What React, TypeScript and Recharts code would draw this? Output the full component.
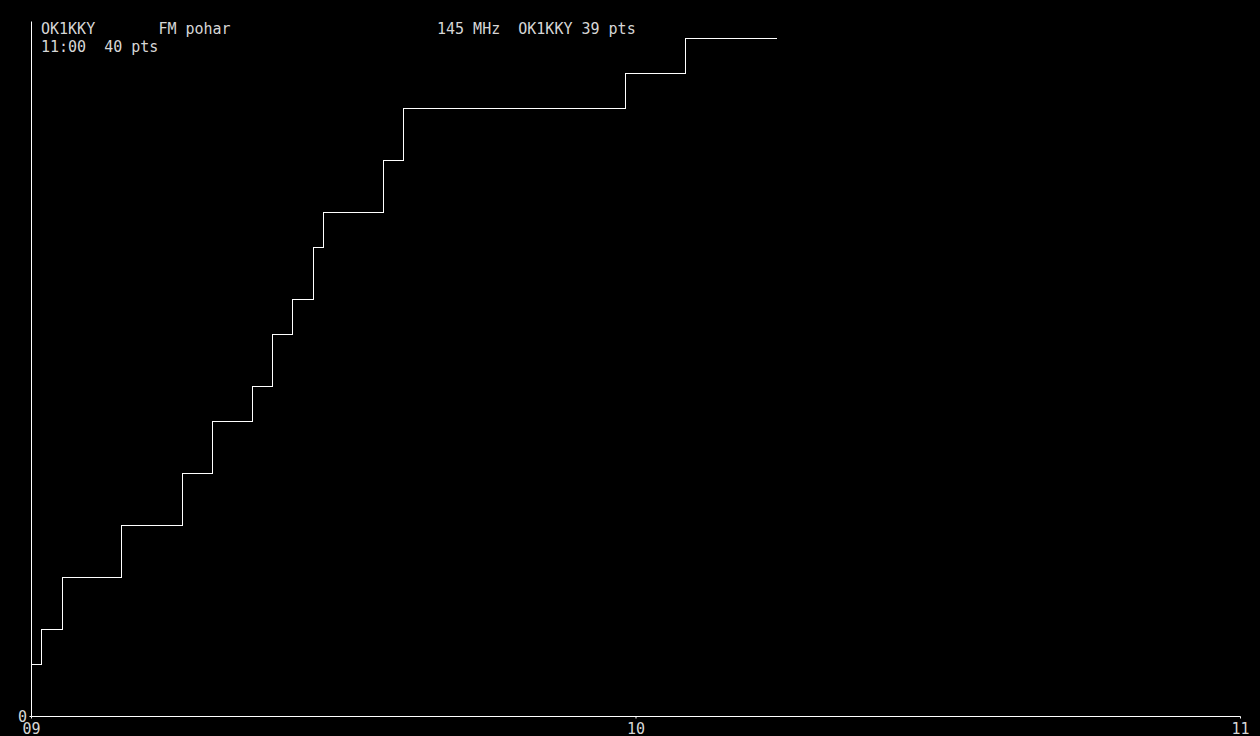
import React from 'react';
import { LineChart, Line, XAxis, YAxis } from 'recharts';

// minutes after 09:00 where the score changes, and the running score
const minutes = [0, 0.99, 3.08, 8.93, 14.99, 17.97, 21.94, 23.92, 25.91, 27.99, 28.98, 34.94, 36.92, 58.96, 64.91, 73.95];
const points = [3, 5, 8, 11, 14, 17, 19, 22, 24, 27, 29, 32, 35, 37, 39, 39];

const xTicks = [0, 60, 120];
const xTickLabels = ['09', '10', '11'];
const yTicks = [0];
const yTickLabels = ['0'];

const headerLines = [
  { x: 41, y: 34, text: 'OK1KKY       FM pohar' },
  { x: 41, y: 51.5, text: '11:00  40 pts' },
  { x: 437, y: 34, text: '145 MHz  OK1KKY 39 pts' },
];

const data = minutes.map((m, i) => ({ m, pts: points[i] }));

const FONT = '"DejaVu Sans Mono", "Liberation Mono", monospace';
const TEXT_COLOR = '#d6d6d6';

function XTick(props: any) {
  const { x, payload } = props;
  const idx = xTicks.indexOf(payload.value);
  return (
    <text x={x} y={734} textAnchor="middle" fill={TEXT_COLOR} fontFamily={FONT} fontSize={15}>
      {xTickLabels[idx]}
    </text>
  );
}

function YTick(props: any) {
  const { payload } = props;
  const idx = yTicks.indexOf(payload.value);
  return (
    <text x={27} y={722} textAnchor="end" fill={TEXT_COLOR} fontFamily={FONT} fontSize={15}>
      {yTickLabels[idx]}
    </text>
  );
}

export default function App() {
  return (
    <div style={{ position: 'absolute', left: 0, top: 0, width: 1260, height: 736, background: '#000', overflow: 'hidden' }}>
      <LineChart width={1260} height={736} data={data} margin={{ top: 21.5, right: 19.5, bottom: 0, left: 0 }}>
        <XAxis
          type="number"
          dataKey="m"
          domain={[0, 120]}
          ticks={xTicks}
          height={19.5}
          stroke="#fff"
          tickSize={2}
          tick={<XTick />}
          interval={0}
        />
        <YAxis
          type="number"
          domain={[0, 40]}
          ticks={yTicks}
          width={31.5}
          stroke="#fff"
          tickSize={2}
          tick={<YTick />}
        />
        <Line
          type="stepAfter"
          dataKey="pts"
          stroke="#fff"
          strokeWidth={1}
          dot={false}
          isAnimationActive={false}
          shapeRendering="crispEdges"
        />
      </LineChart>
      <svg width={1260} height={736} style={{ position: 'absolute', left: 0, top: 0, pointerEvents: 'none' }}>
        {headerLines.map((l, i) => (
          <text key={i} x={l.x} y={l.y} fill={TEXT_COLOR} fontFamily={FONT} fontSize={15} style={{ whiteSpace: 'pre' }} xmlSpace="preserve">
            {l.text}
          </text>
        ))}
      </svg>
    </div>
  );
}
